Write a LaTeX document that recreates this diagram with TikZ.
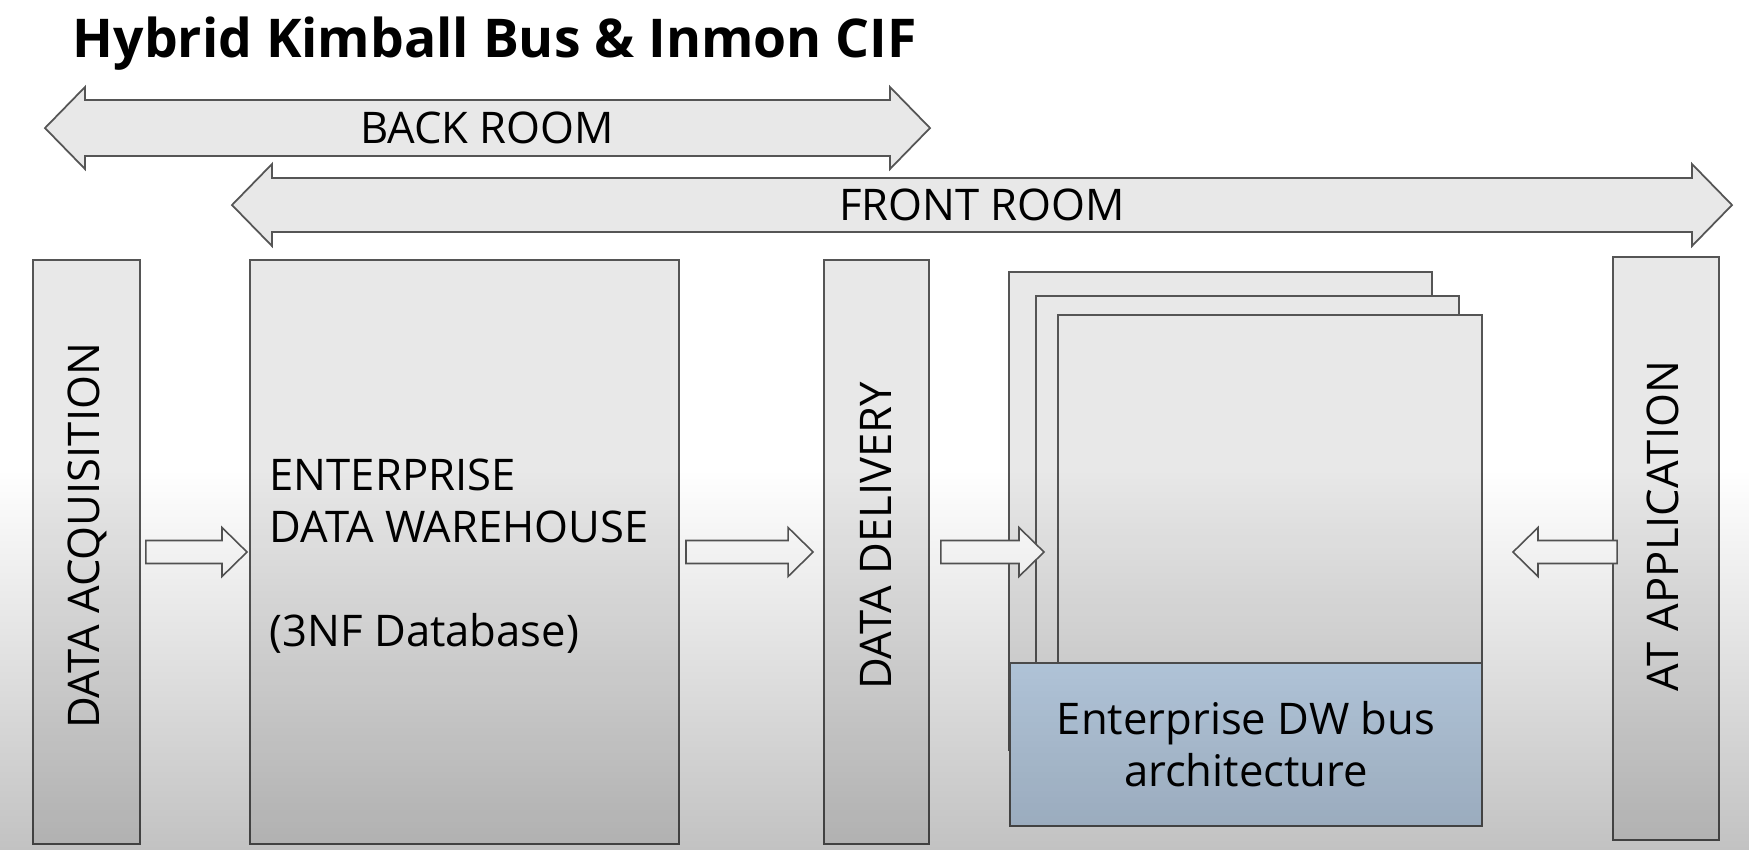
\documentclass[tikz,border=0pt]{standalone}
\usepackage{fontspec}
\setmainfont{Open Sans}
\usetikzlibrary{calc,fadings}

\definecolor{boxfill}{HTML}{E8E8E8}
\definecolor{boxline}{HTML}{555555}
\definecolor{busfill}{HTML}{C8DEF5}

\tikzfading[name=shadefade, top color=transparent!100, bottom color=transparent!76]

% block arrow between two points, head at the second one
\newcommand{\fatarrow}[2]{%
  \draw[fatarrow] let \p1=(#1), \p2=(#2), \n1={ifthenelse(\x2>\x1,1,-1)} in
    (\x1,\y1+0.115cm) -- (\x2-\n1*0.25cm,\y1+0.115cm) -- (\x2-\n1*0.25cm,\y1+0.245cm)
    -- (\x2,\y1) -- (\x2-\n1*0.25cm,\y1-0.245cm) -- (\x2-\n1*0.25cm,\y1-0.115cm)
    -- (\x1,\y1-0.115cm) -- cycle;}

\begin{document}
\begin{tikzpicture}[
    x=0.01cm, y=-0.01cm,
    every node/.style={font=\fontsize{12.4pt}{14.8pt}\selectfont},
    colbox/.style={rectangle, draw=boxline, fill=boxfill, line width=0.5pt, inner sep=0pt},
    vtext/.style={rotate=90, inner sep=0pt},
    roomarrow/.style={draw=boxline, fill=boxfill, line width=0.5pt},
    fatarrow/.style={draw=boxline, fill=white, line width=0.45pt}
]
    \fill[white] (0,0) rectangle (1750,850);
    \useasboundingbox (0,0) rectangle (1750,850);

    \node[anchor=base west, inner sep=0pt, font=\fontsize{15.2pt}{18pt}\selectfont\bfseries] (title) at (72,57) {Hybrid Kimball Bus \& Inmon CIF};

    % rooms
    \draw[roomarrow] (45,128) -- (85,87) -- (85,100) -- (890,100) -- (890,87) -- (930,128)
        -- (890,169) -- (890,156) -- (85,156) -- (85,169) -- cycle;
    \node[inner sep=0pt] (back) at (487,128) {BACK ROOM};
    \draw[roomarrow] (232,205) -- (272,164) -- (272,178) -- (1692,178) -- (1692,164) -- (1732,205)
        -- (1692,246) -- (1692,232) -- (272,232) -- (272,246) -- cycle;
    \node[inner sep=0pt] (front) at (982,205) {FRONT ROOM};

    % columns
    \node[colbox, minimum width=1.07cm, minimum height=5.84cm] (acq) at (86.5,552) {};
    \node[vtext] (acqtext) at (87,536) {DATA ACQUISITION};

    \node[colbox, minimum width=4.29cm, minimum height=5.84cm] (edw) at (464.5,552) {};
    \node[anchor=north west, inner sep=0pt, align=left] (edwtext) at (269,458) {ENTERPRISE\\DATA WAREHOUSE\\[14.8pt](3NF Database)};

    \node[colbox, minimum width=1.05cm, minimum height=5.84cm] (dlv) at (876.5,552) {};
    \node[vtext] (dlvtext) at (876,536) {DATA DELIVERY};

    \node[colbox, minimum width=4.23cm, minimum height=4.78cm] (mart1) at (1220.5,511) {};
    \node[colbox, minimum width=4.23cm, minimum height=4.74cm] (mart2) at (1247.5,533) {};
    \node[colbox, minimum width=4.24cm, minimum height=4.77cm] (mart3) at (1270,553.5) {};
    \node[colbox, fill=busfill, minimum width=4.72cm, minimum height=1.63cm, align=center] (bus) at (1246,744.5) {Enterprise DW bus\\architecture};

    \node[colbox, minimum width=1.06cm, minimum height=5.83cm] (app) at (1666,548.5) {};
    \node[vtext] (apptext) at (1663,526) {AT APPLICATION};

    % flows
    \fatarrow{[xshift=0.05cm]acq.east}{[xshift=-0.02cm]edw.west}
    \fatarrow{[xshift=0.06cm]edw.east}{[xshift=-0.1cm]dlv.west}
    \fatarrow{[xshift=0.11cm]dlv.east}{[xshift=-0.13cm]mart3.west}
    \fatarrow{[xshift=0.05cm,yshift=-0.035cm]app.west}{[xshift=0.3cm]mart3.east}

    % grey shade over the lower part
    \fill[black, path fading=shadefade] (0,470) rectangle (1750,850);
\end{tikzpicture}
\end{document}
